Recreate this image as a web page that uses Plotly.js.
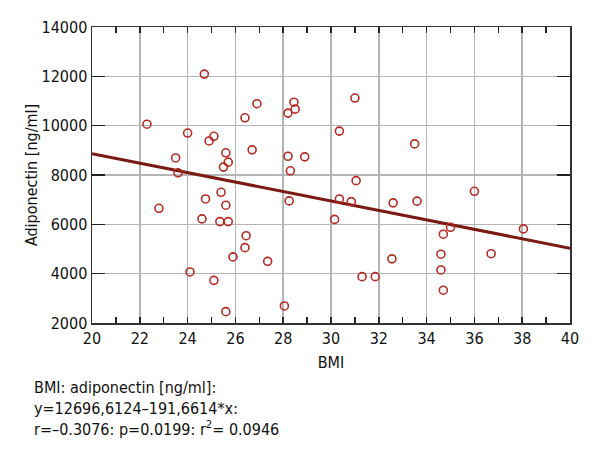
<!DOCTYPE html>
<html>
<head>
<meta charset="utf-8">
<script src="https://cdn.plot.ly/plotly-3.0.1.min.js"></script>
<style>
  body { margin: 0; background: #fff; }
  #grafica { width: 600px; height: 460px; }
</style>
</head>
<body>
<div id="grafica"></div>
<script>
let fuente = 'Liberation Sans Narrow, DejaVu Sans Condensed, Arial Narrow, sans-serif';
let colorPuntos = '#b52a25', colorRecta = '#7b1a12';

// BMI vs adiponectin
const bmi = [22.3, 22.8, 23.5, 23.6, 24.0, 24.1, 24.6, 24.7, 24.75, 24.9, 25.1, 25.1, 25.35, 25.4, 25.5,
  25.6, 25.6, 25.6, 25.7, 25.7, 25.9, 26.4, 26.4, 26.45, 26.7, 26.9, 27.35, 28.05, 28.2, 28.2,
  28.25, 28.3, 28.45, 28.5, 28.9, 30.15, 30.35, 30.35, 30.85, 31.0, 31.05, 31.3, 31.85, 32.55, 32.6,
  33.5, 33.6, 34.6, 34.6, 34.7, 34.7, 35.0, 36.0, 36.7, 38.05];
const adiponectina = [10060, 6650, 8690, 8090, 9700, 4070, 6220, 12090, 7030, 9380, 9570, 3730, 6110, 7300, 8320,
  8900, 6775, 2460, 8520, 6110, 4680, 10320, 5055, 5540, 9020, 10890, 4500, 2690, 10510, 8760,
  6950, 8170, 10950, 10670, 8735, 6200, 9780, 7030, 6920, 11120, 7770, 3880, 3880, 4600, 6870,
  9260, 6940, 4790, 4150, 5600, 3330, 5880, 7340, 4810, 5815];

// regression y = a + b*x
const intercepto = 12696.6124, pendiente = -191.6614;
const xRecta = [20, 40];
const yRecta = xRecta.map(x => intercepto + pendiente * x);

const puntos = {
    x: bmi,
    y: adiponectina,
    type: 'scatter',
    mode: 'markers',
    marker: { symbol: 'circle-open', size: 8, color: colorPuntos, line: { width: 1.6, color: colorPuntos } },
    hoverinfo: 'skip'
};

const recta = {
    x: xRecta,
    y: yRecta,
    type: 'scatter',
    mode: 'lines',
    line: { color: colorRecta, width: 3 },
    hoverinfo: 'skip'
};

const texto = 'BMI: adiponectin [ng/ml]:<br>y=12696,6124\u2013191,6614*x:<br>r=\u20130.3076: p=0.0199: r<sup>2</sup>= 0.0946';

const layout = {
    width: 600,
    height: 460,
    margin: { l: 92, r: 30, t: 27, b: 137 },
    showlegend: false,
    paper_bgcolor: '#fff',
    plot_bgcolor: '#fff',
    font: { family: fuente, size: 16, color: '#111' },
    xaxis: {
        range: [20, 40],
        dtick: 2,
        tick0: 20,
        ticks: 'inside',
        ticklen: 6,
        tickwidth: 1.5,
        tickcolor: '#222',
        showline: true,
        linecolor: '#333',
        linewidth: 1.5,
        mirror: 'ticks',
        showgrid: true,
        gridcolor: '#b4b4b4',
        gridwidth: 1.5,
        zeroline: false,
        minor: { dtick: 1, ticks: 'inside', ticklen: 6, tickwidth: 1.5, tickcolor: '#222', showgrid: false },
        tickfont: { family: fuente, size: 16 },
        title: { text: 'BMI', font: { family: fuente, size: 16 }, standoff: 10 }
    },
    yaxis: {
        range: [2000, 14000],
        dtick: 2000,
        ticks: 'inside',
        ticklen: 13,
        tickwidth: 1.5,
        tickcolor: '#222',
        showline: true,
        linecolor: '#333',
        linewidth: 1.5,
        mirror: 'ticks',
        showgrid: true,
        gridcolor: '#b4b4b4',
        gridwidth: 1.5,
        zeroline: false,
        tickformat: 'd',
        tickfont: { family: fuente, size: 16 },
        title: { text: 'Adiponectin [ng/ml]', font: { family: fuente, size: 16 }, standoff: 0 }
    },
    annotations: [{
        text: texto,
        xref: 'paper', yref: 'paper',
        x: -0.125, y: -0.18,
        xanchor: 'left', yanchor: 'top',
        align: 'left',
        showarrow: false,
        font: { family: fuente, size: 16, color: '#111' }
    }]
};

Plotly.newPlot('grafica', [recta, puntos], layout, { displayModeBar: false, staticPlot: true });
</script>
</body>
</html>
